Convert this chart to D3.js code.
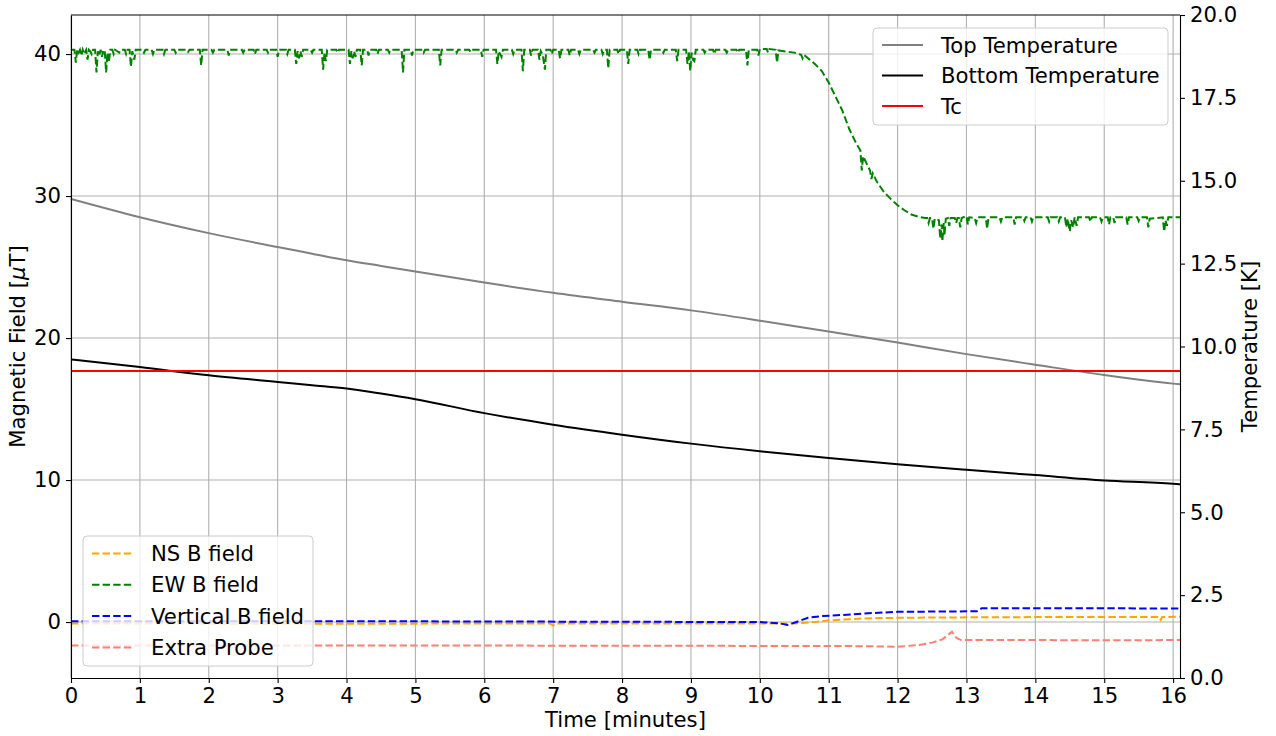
<!DOCTYPE html>
<html>
<head>
<meta charset="utf-8">
<script src="https://cdn.jsdelivr.net/npm/d3@7"></script>
<style>
  body { margin: 0; background: #fff; }
  svg { display: block; }
  text { font-family: "DejaVu Sans", "Liberation Sans", sans-serif; fill: #000; }
</style>
</head>
<body>
<svg id="chart" width="1276" height="736"></svg>
<script>
// ---- axis ticks and limits ----
const timeTicks = [0, 1, 2, 3, 4, 5, 6, 7, 8, 9, 10, 11, 12, 13, 14, 15, 16];
const fieldTicks = [0, 10, 20, 30, 40];
const tempTicks = [0, 2.5, 5, 7.5, 10, 12.5, 15, 17.5, 20];
const timeRange = [0, 16.1];
const fieldRange = [-3.94, 42.75];
const tempRange = [0, 20];

// ---- magnetic field probes: [minutes, µT] ----
const nsField = [
  [0, -0.1], [3.5, -0.12], [6.95, -0.1], [7.0, -0.25], [7.05, -0.1], [10.5, -0.1], [10.8, 0.0],
  [11.0, 0.12], [11.5, 0.25], [12.0, 0.3], [13.0, 0.33], [14.0, 0.35], [15.0, 0.35],
  [15.8, 0.35], [15.82, 0.15], [15.84, 0.35], [16.1, 0.37]
];
const ewField = [
  [0, 40.3], [0.05, 40.3], [0.07, 39.4], [0.09, 40.3], [0.11, 40.1], [0.13, 40.3], [0.15, 39.9], [0.17, 40.3],
  [0.19, 40.0], [0.22, 40.3], [0.24, 39.6], [0.26, 40.3], [0.28, 40.2], [0.30, 40.0], [0.32, 40.3], [0.35, 40.3],
  [0.37, 38.7], [0.39, 40.2], [0.41, 39.9], [0.43, 40.3], [0.45, 39.8], [0.47, 40.3], [0.49, 40.2], [0.51, 38.7],
  [0.53, 40.1], [0.55, 39.4], [0.57, 40.3], [0.60, 40.3], [0.62, 40.0], [0.64, 40.3], [0.70, 40.1], [0.72, 40.3],
  [0.78, 40.3], [0.80, 40.0], [0.82, 40.3], [0.85, 40.3],
  [0.87, 39.1], [0.89, 40.2], [0.92, 39.6], [0.94, 40.3], [1.04, 40.3], [1.06, 40.1], [1.08, 40.3],
  [1.17, 40.3], [1.19, 40.0], [1.21, 40.3],
  [1.33, 40.3], [1.35, 40.0], [1.37, 40.3], [1.50, 40.3], [1.52, 40.1], [1.54, 40.3], [1.68, 40.3],
  [1.70, 40.15], [1.72, 40.3], [1.87, 40.3], [1.89, 39.2], [1.91, 40.3], [2.04, 40.3], [2.06, 40.1],
  [2.08, 40.3], [2.27, 40.3],
  [2.29, 39.9], [2.31, 40.3], [2.48, 40.3], [2.50, 40.1], [2.52, 40.3], [2.65, 40.3], [2.67, 40.0],
  [2.69, 40.3], [2.84, 40.3], [2.86, 40.1], [2.88, 40.3], [2.98, 40.3], [3.00, 39.8],
  [3.02, 40.3], [3.12, 40.3], [3.14, 40.0], [3.16, 40.3], [3.25, 40.3], [3.27, 39.3], [3.29, 40.2],
  [3.31, 39.7], [3.33, 40.2], [3.35, 39.8], [3.37, 40.3], [3.48, 40.3], [3.50, 40.1], [3.52, 40.3], [3.64, 40.3],
  [3.66, 38.9], [3.68, 40.1], [3.70, 39.5], [3.72, 40.3], [3.85, 40.3], [3.87, 40.1], [3.89, 40.3], [4.03, 40.3], [4.05, 39.3], [4.07, 40.2],
  [4.09, 39.7], [4.11, 40.2], [4.13, 39.8], [4.15, 40.3], [4.20, 40.3], [4.22, 39.2], [4.24, 40.3],
  [4.30, 40.3], [4.32, 39.9], [4.34, 40.3], [4.43, 40.3], [4.45, 40.0],
  [4.47, 40.3], [4.60, 40.3], [4.62, 40.1], [4.64, 40.3], [4.80, 40.3], [4.82, 38.7], [4.84, 40.3], [4.93, 40.3], [4.95, 39.9], [4.97, 40.3],
  [5.10, 40.3], [5.12, 40.1], [5.14, 40.3],
  [5.34, 40.3], [5.36, 39.2], [5.38, 40.3], [5.58, 40.3], [5.60, 40.1], [5.62, 40.3], [5.78, 40.3],
  [5.80, 40.15], [5.82, 40.3], [5.95, 40.3], [5.97, 39.8], [5.99, 40.3], [6.17, 40.3],
  [6.19, 39.3], [6.21, 40.2], [6.25, 39.8], [6.27, 40.3], [6.40, 40.3], [6.42, 40.0], [6.44, 40.3],
  [6.54, 40.3], [6.56, 38.8], [6.58, 40.3], [6.66, 40.3], [6.68, 39.9], [6.70, 40.3],
  [6.78, 40.3], [6.80, 39.6], [6.82, 40.2], [6.85, 39.9], [6.88, 38.9], [6.90, 40.3], [6.96, 40.3],
  [6.98, 40.0], [7.00, 40.3], [7.08, 40.3], [7.10, 39.7],
  [7.12, 40.3], [7.22, 40.3], [7.24, 39.9], [7.26, 40.3], [7.36, 40.3], [7.38, 40.0], [7.40, 40.3],
  [7.58, 40.3], [7.60, 40.1], [7.62, 40.3], [7.70, 40.3], [7.72, 40.0], [7.74, 40.3], [7.78, 40.3], [7.80, 39.0], [7.82, 40.3],
  [7.93, 40.3], [7.95, 40.0], [7.97, 40.3],
  [8.07, 40.3], [8.09, 39.3], [8.11, 40.3], [8.22, 40.3], [8.24, 40.0], [8.26, 40.3], [8.38, 40.3], [8.40, 39.6], [8.42, 40.3],
  [8.58, 40.3], [8.60, 40.1], [8.62, 40.3], [8.78, 40.3],
  [8.80, 39.5], [8.82, 40.3], [8.93, 40.3], [8.95, 39.3], [8.97, 40.2], [8.99, 38.8], [9.01, 40.1],
  [9.03, 39.6], [9.05, 39.5], [9.07, 40.3], [9.18, 40.3], [9.20, 40.1], [9.22, 40.3], [9.32, 40.3], [9.34, 40.0],
  [9.36, 40.3], [9.50, 40.3], [9.52, 40.1], [9.54, 40.3], [9.66, 40.3], [9.68, 40.1], [9.70, 40.3], [9.80, 40.3], [9.82, 39.2], [9.84, 40.3], [9.96, 40.3], [9.98, 39.9],
  [10.0, 40.35], [10.10, 40.35], [10.12, 40.1], [10.14, 40.35], [10.23, 40.3], [10.25, 39.4], [10.27, 40.25], [10.5, 40.1], [10.6, 39.95],
  [10.62, 39.7], [10.64, 39.95], [10.7, 39.7], [10.8, 39.3], [10.9, 38.8], [11.0, 38.0], [11.1, 37.0],
  [11.2, 36.0], [11.3, 34.7], [11.4, 33.7], [11.46, 33.2], [11.48, 31.8], [11.5, 32.8], [11.6, 31.8],
  [11.62, 31.2], [11.64, 31.6], [11.7, 31.0], [11.8, 30.3], [11.9, 29.8], [12.0, 29.35], [12.1, 29.0],
  [12.2, 28.7], [12.3, 28.55], [12.4, 28.45], [12.43, 28.45], [12.45, 28.1], [12.47, 28.45],
  [12.50, 28.45], [12.52, 27.7], [12.54, 28.4], [12.60, 28.3], [12.62, 27.0], [12.64, 28.0],
  [12.65, 26.8], [12.67, 28.1], [12.68, 27.2], [12.70, 28.4], [12.73, 28.45], [12.75, 27.9],
  [12.77, 28.45], [12.83, 28.45], [12.85, 28.1], [12.87, 28.45], [12.89, 28.45], [12.91, 27.8], [12.93, 28.45], [13.00, 28.6], [13.02, 28.0],
  [13.04, 28.5], [13.12, 28.45], [13.14, 28.1], [13.16, 28.5], [13.28, 28.5], [13.30, 27.7],
  [13.32, 28.5], [13.48, 28.5], [13.50, 28.2], [13.52, 28.5], [13.68, 28.5], [13.70, 28.0], [13.72, 28.5],
  [13.82, 28.5], [13.84, 28.25], [13.86, 28.5], [13.93, 28.5], [13.95, 28.2],
  [13.97, 28.5], [14.18, 28.5], [14.20, 28.2], [14.22, 28.5], [14.32, 28.5], [14.34, 28.2], [14.36, 28.5], [14.43, 28.5], [14.45, 27.8],
  [14.47, 28.4], [14.50, 27.5], [14.52, 28.3], [14.55, 27.8], [14.57, 28.5], [14.60, 27.9],
  [14.62, 28.5], [14.78, 28.5], [14.80, 28.2], [14.82, 28.5], [14.94, 28.5], [14.96, 28.2], [14.98, 28.5], [15.05, 28.5], [15.07, 28.0],
  [15.09, 28.5], [15.13, 28.5], [15.15, 28.1], [15.17, 28.5], [15.32, 28.5], [15.34, 28.0],
  [15.36, 28.5], [15.48, 28.5], [15.50, 28.25], [15.52, 28.5], [15.62, 28.5], [15.64, 27.8], [15.66, 28.4], [15.85, 28.5], [15.87, 27.5],
  [15.89, 28.3], [15.91, 27.9], [15.93, 28.5], [16.1, 28.5]
];
const verticalField = [
  [0, 0.05], [5.0, 0.05], [10.0, 0.0], [10.3, -0.1], [10.4, -0.2], [10.5, -0.05], [10.7, 0.3],
  [10.9, 0.42], [11.2, 0.5], [11.5, 0.6], [12.0, 0.72], [13.15, 0.76], [13.22, 0.97],
  [14.0, 0.97], [15.0, 0.97], [16.1, 0.95]
];
const extraProbe = [
  [0, -1.65], [5.0, -1.65], [10.0, -1.68], [11.0, -1.68], [11.5, -1.7], [12.0, -1.74],
  [12.3, -1.62], [12.5, -1.45], [12.65, -1.22], [12.79, -0.68], [12.85, -1.1], [12.92, -1.27],
  [14.0, -1.27], [15.0, -1.28], [16.1, -1.27]
];

// ---- thermometers: minutes, K ----
const tempTime = [0, 1, 2, 3, 3.5, 4, 4.5, 5, 6, 7, 8, 9, 10, 11, 12, 13, 14, 15, 16, 16.1];
const topTemp = [14.45, 13.9, 13.42, 13.0, 12.8, 12.6, 12.43, 12.26, 11.93, 11.62, 11.35, 11.09,
  10.78, 10.45, 10.12, 9.77, 9.45, 9.14, 8.88, 8.86];
const bottomTemp = [9.61, 9.38, 9.13, 8.93, 8.83, 8.73, 8.58, 8.41, 7.99, 7.64, 7.34, 7.07,
  6.84, 6.64, 6.45, 6.28, 6.12, 5.96, 5.86, 5.84];
const criticalTemp = 9.26;

// ---- layout ----
const svg = d3.select("#chart");
const plot = { left: 71, right: 1180, top: 15, bottom: 678 };
const fontSize = 21.2;
const lineWidth = 2;

const x = d3.scaleLinear().domain(timeRange).range([plot.left, plot.right]);
const yB = d3.scaleLinear().domain(fieldRange).range([plot.bottom, plot.top]);
const yT = d3.scaleLinear().domain(tempRange).range([plot.bottom, plot.top]);

svg.append("defs").append("clipPath").attr("id", "plotClip")
  .append("rect").attr("x", plot.left).attr("y", plot.top)
  .attr("width", plot.right - plot.left).attr("height", plot.bottom - plot.top);

// grid
const grid = svg.append("g").attr("stroke", "#b0b0b0").attr("stroke-width", 1.1);
grid.selectAll("line.v").data(timeTicks).join("line")
  .attr("x1", d => x(d)).attr("x2", d => x(d))
  .attr("y1", plot.top).attr("y2", plot.bottom);
grid.selectAll("line.h").data(fieldTicks).join("line")
  .attr("x1", plot.left).attr("x2", plot.right)
  .attr("y1", d => yB(d)).attr("y2", d => yB(d));

// magnetic field series (dashed)
const dash = "7.4,3.2";
const fieldSeries = [
  { name: "NS B field", data: nsField, color: "#ffa500" },
  { name: "EW B field", data: ewField, color: "#008000" },
  { name: "Vertical B field", data: verticalField, color: "#0000ff" },
  { name: "Extra Probe", data: extraProbe, color: "#fa8072" }
];
const fieldLine = d3.line().x(d => x(d[0])).y(d => yB(d[1]));
const fieldG = svg.append("g").attr("clip-path", "url(#plotClip)");
fieldSeries.forEach(s => {
  fieldG.append("path").datum(s.data)
    .attr("d", fieldLine).attr("fill", "none")
    .attr("stroke", s.color).attr("stroke-width", lineWidth)
    .attr("stroke-dasharray", dash);
});

function legend(entries, box) {
  const g = svg.append("g");
  g.append("rect").attr("x", box.x).attr("y", box.y)
    .attr("width", box.w).attr("height", box.h).attr("rx", 4)
    .attr("fill", "#fff").attr("fill-opacity", 0.8)
    .attr("stroke", "#cccccc").attr("stroke-width", 1);
  entries.forEach((e, i) => {
    const cy = box.y + box.first + i * box.step;
    g.append("line").attr("x1", box.x + 9).attr("x2", box.x + 50)
      .attr("y1", cy).attr("y2", cy)
      .attr("stroke", e.color).attr("stroke-width", lineWidth)
      .attr("stroke-dasharray", e.dashed ? dash : null);
    g.append("text").attr("x", box.x + 68).attr("y", cy)
      .attr("dy", "0.36em").attr("font-size", fontSize).text(e.name);
  });
}

legend(fieldSeries.map(s => ({ name: s.name, color: s.color, dashed: true })),
  { x: 83, y: 536, w: 230, h: 130, first: 17.5, step: 31.3 });

// temperature series on the right-hand axis
const tempLine = d3.line().x(d => x(d[0])).y(d => yT(d[1])).curve(d3.curveMonotoneX);
const tempG = svg.append("g").attr("clip-path", "url(#plotClip)");
const tempSeries = [
  { name: "Top Temperature", data: tempTime.map((t, i) => [t, topTemp[i]]), color: "#808080" },
  { name: "Bottom Temperature", data: tempTime.map((t, i) => [t, bottomTemp[i]]), color: "#000000" }
];
tempSeries.forEach(s => {
  tempG.append("path").datum(s.data)
    .attr("d", tempLine).attr("fill", "none")
    .attr("stroke", s.color).attr("stroke-width", lineWidth);
});
tempG.append("line")
  .attr("x1", plot.left).attr("x2", plot.right)
  .attr("y1", yT(criticalTemp)).attr("y2", yT(criticalTemp))
  .attr("stroke", "#ff0000").attr("stroke-width", lineWidth);

legend([
  { name: "Top Temperature", color: "#808080" },
  { name: "Bottom Temperature", color: "#000000" },
  { name: "Tc", color: "#ff0000" }
], { x: 873, y: 28, w: 295, h: 97, first: 17, step: 30.5 });

// axes
function styleAxis(g) {
  g.selectAll("path.domain").attr("stroke", "#000").attr("stroke-width", 1.1);
  g.selectAll(".tick line").attr("stroke", "#000").attr("stroke-width", 1.1);
  g.selectAll(".tick text").attr("font-size", fontSize)
    .attr("font-family", '"DejaVu Sans", sans-serif').attr("fill", "#000");
}
const xAxis = svg.append("g").attr("transform", `translate(0,${plot.bottom})`)
  .call(d3.axisBottom(x).tickValues(timeTicks).tickFormat(d3.format("d"))
    .tickSize(5).tickPadding(5).tickSizeOuter(0));
styleAxis(xAxis);

const yLeft = svg.append("g").attr("transform", `translate(${plot.left},0)`)
  .call(d3.axisLeft(yB).tickValues(fieldTicks).tickFormat(d3.format("d"))
    .tickSize(5).tickPadding(5).tickSizeOuter(0));
styleAxis(yLeft);

const yRight = svg.append("g").attr("transform", `translate(${plot.right},0)`)
  .call(d3.axisRight(yT).tickValues(tempTicks).tickFormat(d3.format(".1f"))
    .tickSize(5).tickPadding(5).tickSizeOuter(0));
styleAxis(yRight);

// top spine
svg.append("line").attr("x1", plot.left).attr("x2", plot.right)
  .attr("y1", plot.top).attr("y2", plot.top)
  .attr("stroke", "#000").attr("stroke-width", 1.1);

// axis titles
svg.append("text").attr("x", (plot.left + plot.right) / 2).attr("y", 727)
  .attr("text-anchor", "middle").attr("font-size", fontSize).text("Time [minutes]");

const leftTitle = svg.append("text")
  .attr("transform", `translate(25,${(plot.top + plot.bottom) / 2}) rotate(-90)`)
  .attr("text-anchor", "middle").attr("font-size", fontSize);
leftTitle.append("tspan").text("Magnetic Field [");
leftTitle.append("tspan").attr("font-style", "italic").text("\u03bc");
leftTitle.append("tspan").text("T]");

svg.append("text")
  .attr("transform", `translate(1257,${(plot.top + plot.bottom) / 2}) rotate(-90)`)
  .attr("text-anchor", "middle").attr("font-size", fontSize).text("Temperature [K]");
</script>
</body>
</html>
